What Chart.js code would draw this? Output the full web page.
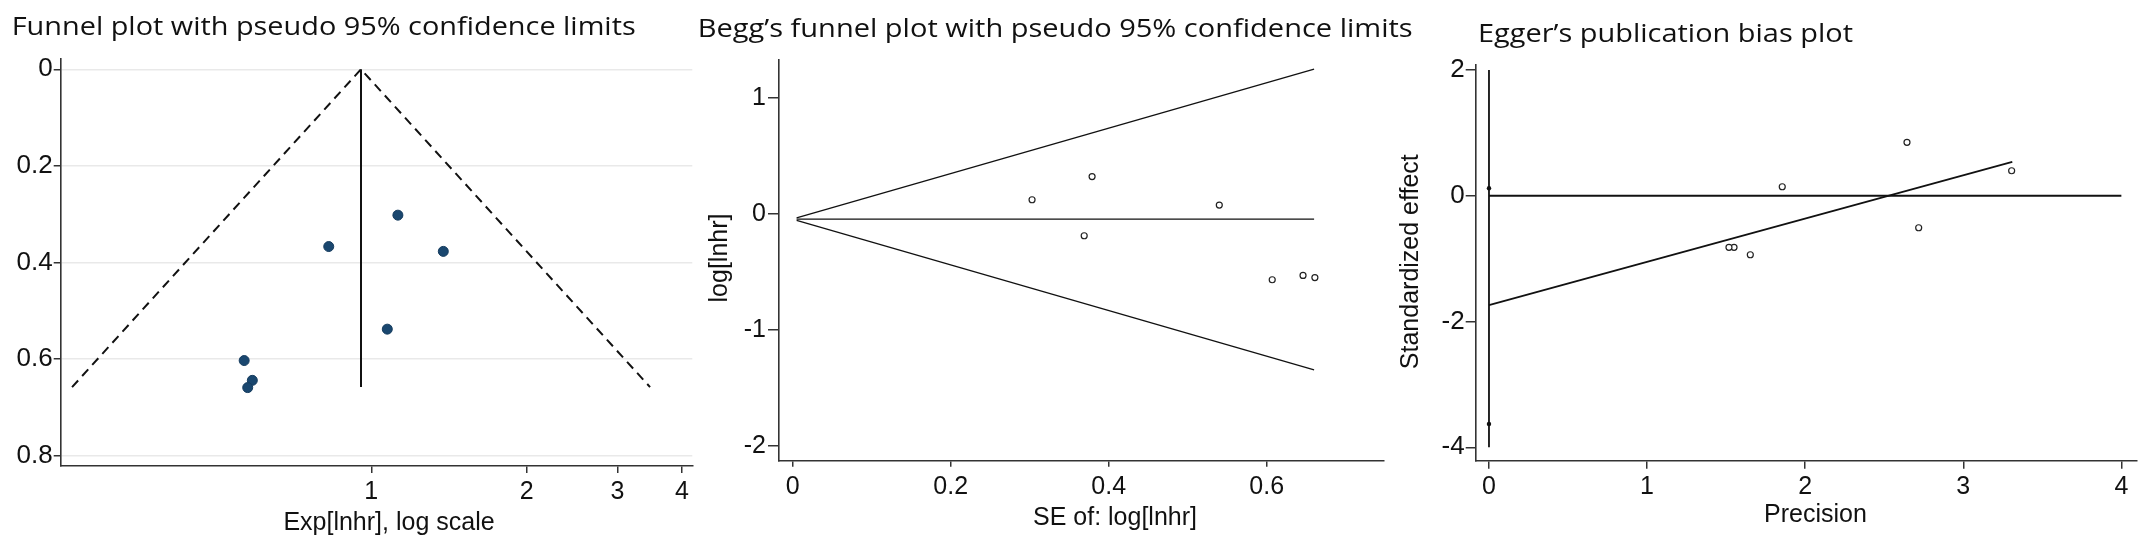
<!DOCTYPE html>
<html>
<head>
<meta charset="utf-8">
<script src="https://cdn.jsdelivr.net/npm/chart.js@4.4.0/dist/chart.umd.min.js"></script>
<style>
    html, body { margin: 0; padding: 0; background: #fff; }
    body { width: 2150px; height: 548px; position: relative; overflow: hidden; }
    canvas { position: absolute; left: 0; top: 0; }
</style>
</head>
<body>
<canvas id="funnel" width="2150" height="548"></canvas>
<canvas id="begg" width="2150" height="548"></canvas>
<canvas id="egger" width="2150" height="548"></canvas>
<script>
// Funnel plot (hazard ratio on log scale vs SE)
const funnelHr = [1.126, 1.379, 0.827, 1.074, 0.567, 0.588, 0.576];
const funnelSe = [0.302, 0.377, 0.367, 0.538, 0.603, 0.644, 0.659];
const funnelLimitX = [0.263, 0.955, 3.47];
const funnelLimitY = [0.658, 0, 0.658];
const funnelMidX = [0.955, 0.955];
const funnelMidY = [0, 0.658];
const funnelXTicks = [1, 2, 3, 4];
const funnelYTicks = [0, 0.2, 0.4, 0.6, 0.8];

// Begg's funnel plot
const beggSe = [0.303, 0.379, 0.369, 0.540, 0.607, 0.646, 0.661];
const beggLogHr = [0.121, 0.321, -0.189, 0.075, -0.568, -0.531, -0.549];
const beggLineSe = [0.005, 0.66];
const beggUpper = [-0.036, 1.246];
const beggLower = [-0.056, -1.344];
const beggPooled = [-0.046, -0.046];
const beggXTicks = [0, 0.2, 0.4, 0.6];
const beggYTicks = [-2, -1, 0, 1];

// Egger's publication bias plot
const eggerPrecision = [3.306, 2.644, 2.718, 1.855, 1.653, 1.550, 1.518];
const eggerEffect = [0.397, 0.849, -0.509, 0.143, -0.938, -0.82, -0.82];
const eggerZeroX = [0, 4];
const eggerZeroY = [0, 0];
const eggerAxisX = [0, 0];
const eggerAxisY = [-4, 2];
const eggerFitX = [0, 3.31];
const eggerFitY = [-1.74, 0.54];
const eggerCiX = [0, 0];
const eggerCiY = [0.12, -3.63];
const eggerXTicks = [0, 1, 2, 3, 4];
const eggerYTicks = [-4, -2, 0, 2];

Chart.defaults.font.family = "'Liberation Sans', Arial, sans-serif";
Chart.defaults.color = '#111';

const W = 2150, H = 548;
const TITLE_FONT = "26px 'Open Sans'";
const AXIS_FONT = "25px 'Liberation Sans', Arial, sans-serif";

// draws panel titles and axis titles at fixed page positions
const panelText = {
    id: 'panelText',
    afterDraw(chart, args, opts) {
        const ctx = chart.ctx;
        (opts.items || []).forEach(t => {
            ctx.save();
            ctx.font = t.font;
            ctx.fillStyle = '#111';
            ctx.textAlign = t.align || 'center';
            ctx.textBaseline = t.baseline || 'alphabetic';
            ctx.translate(t.x, t.y);
            if (t.rotate) ctx.rotate(t.rotate);
            if (t.width) {
                // squeeze/stretch a title to the width it has in the original
                const m = ctx.measureText(t.text).width;
                ctx.scale(t.width / m, 1);
            }
            ctx.fillText(t.text, 0, 0);
            ctx.restore();
        });
    }
};

function pts(xs, ys) {
    return xs.map((x, i) => ({ x: x, y: ys[i] }));
}

function lineSet(xs, ys, width, dash) {
    return {
        data: pts(xs, ys),
        showLine: true,
        pointRadius: 0,
        borderColor: '#111',
        borderWidth: width,
        borderDash: dash || [],
        fill: false
    };
}

function axisOpts(o) {
    return {
        type: o.type || 'linear',
        position: o.position,
        min: o.min,
        max: o.max,
        reverse: !!o.reverse,
        border: { display: true, color: '#333', width: 1.6 },
        grid: {
            display: true,
            drawOnChartArea: !!o.gridColor,
            color: o.gridColor || 'rgba(0,0,0,0)',
            lineWidth: 1.5,
            drawTicks: true,
            tickLength: o.tickLength,
            tickColor: '#333',
            tickWidth: 1.5
        },
        ticks: {
            color: '#111',
            font: { size: o.fontSize || 24 },
            padding: o.padding,
            autoSkip: false,
            maxRotation: 0,
            callback: v => String(v)
        },
        afterBuildTicks: s => { s.ticks = o.ticks.map(v => ({ value: v })); },
        afterFit: s => {
            if (o.position === 'left') {
                s.width = o.size;
                s.paddingTop = 0;
                s.paddingBottom = 0;
            } else {
                s.height = o.size;
                s.paddingLeft = 0;
                s.paddingRight = 0;
            }
        }
    };
}

function makePanel(id, area, x, y, datasets, texts) {
    const wY = y.size, hX = x.size;
    return new Chart(document.getElementById(id), {
        type: 'scatter',
        data: { datasets: datasets },
        options: {
            responsive: false,
            animation: false,
            devicePixelRatio: 1,
            layout: {
                autoPadding: false,
                padding: {
                    left: area.l - wY,
                    right: W - area.r,
                    top: area.t,
                    bottom: H - area.b - hX
                }
            },
            scales: { x: axisOpts(x), y: axisOpts(y) },
            plugins: {
                legend: { display: false },
                tooltip: { enabled: false },
                panelText: { items: texts }
            }
        },
        plugins: [panelText]
    });
}

// Panel 1
makePanel('funnel', { l: 60.7, r: 692.3, t: 58.4, b: 466 },
    { type: 'logarithmic', position: 'bottom', min: 0.25, max: 4.19, ticks: funnelXTicks, tickLength: 7, padding: 4, size: 45, fontSize: 25 },
    { position: 'left', min: -0.0225, max: 0.8213, reverse: true, ticks: funnelYTicks, tickLength: 7, padding: 1, size: 58, fontSize: 26, gridColor: '#e9e9e9' },
    [
        lineSet(funnelLimitX, funnelLimitY, 2, [9, 6]),
        lineSet(funnelMidX, funnelMidY, 2),
        {
            data: pts(funnelHr, funnelSe),
            pointRadius: 5,
            pointBackgroundColor: '#1a476f',
            pointBorderColor: '#163c5e',
            pointBorderWidth: 1
        }
    ],
    [
        { text: 'Funnel plot with pseudo 95% confidence limits', x: 11.7, y: 35, width: 624, font: TITLE_FONT, align: 'left' },
        { text: 'Exp[lnhr], log scale', x: 389, y: 530, font: AXIS_FONT }
    ]);

// Panel 2
makePanel('begg', { l: 779, r: 1383.3, t: 60, b: 460.7 },
    { position: 'bottom', min: -0.0173, max: 0.7476, ticks: beggXTicks, tickLength: 6, padding: 5, size: 45, fontSize: 25 },
    { position: 'left', min: -2.127, max: 1.325, ticks: beggYTicks, tickLength: 11, padding: 2, size: 60, fontSize: 25 },
    [
        lineSet(beggLineSe, beggUpper, 1.3),
        lineSet(beggLineSe, beggLower, 1.3),
        lineSet(beggLineSe, beggPooled, 1.3),
        {
            data: pts(beggSe, beggLogHr),
            pointRadius: 3,
            pointBackgroundColor: '#fff',
            pointBorderColor: '#222',
            pointBorderWidth: 1.2
        }
    ],
    [
        { text: 'Begg\u2019s funnel plot with pseudo 95% confidence limits', x: 697.7, y: 36.7, width: 715, font: TITLE_FONT, align: 'left' },
        { text: 'SE of: log[lnhr]', x: 1115, y: 525, font: AXIS_FONT },
        { text: 'log[lnhr]', x: 720, y: 258, font: AXIS_FONT, baseline: 'middle', rotate: -Math.PI / 2 }
    ]);

// Panel 3
makePanel('egger', { l: 1475.7, r: 2136.7, t: 64.3, b: 460.7 },
    { position: 'bottom', min: -0.084, max: 4.097, ticks: eggerXTicks, tickLength: 8, padding: 3, size: 45, fontSize: 25 },
    { position: 'left', min: -4.213, max: 2.09, ticks: eggerYTicks, tickLength: 10, padding: 1, size: 60, fontSize: 26 },
    [
        lineSet(eggerZeroX, eggerZeroY, 1.8),
        lineSet(eggerAxisX, eggerAxisY, 1.8),
        lineSet(eggerFitX, eggerFitY, 1.8),
        {
            data: pts(eggerCiX, eggerCiY),
            pointRadius: 2.2,
            pointBackgroundColor: '#111',
            pointBorderColor: '#111',
            pointBorderWidth: 0
        },
        {
            data: pts(eggerPrecision, eggerEffect),
            pointRadius: 3,
            pointBackgroundColor: '#fff',
            pointBorderColor: '#222',
            pointBorderWidth: 1.2
        }
    ],
    [
        { text: 'Egger\u2019s publication bias plot', x: 1478, y: 41.9, width: 375, font: TITLE_FONT, align: 'left' },
        { text: 'Precision', x: 1815.5, y: 521.7, font: AXIS_FONT },
        { text: 'Standardized effect', x: 1411, y: 261.7, font: AXIS_FONT, baseline: 'middle', rotate: -Math.PI / 2 }
    ]);
</script>
</body>
</html>
